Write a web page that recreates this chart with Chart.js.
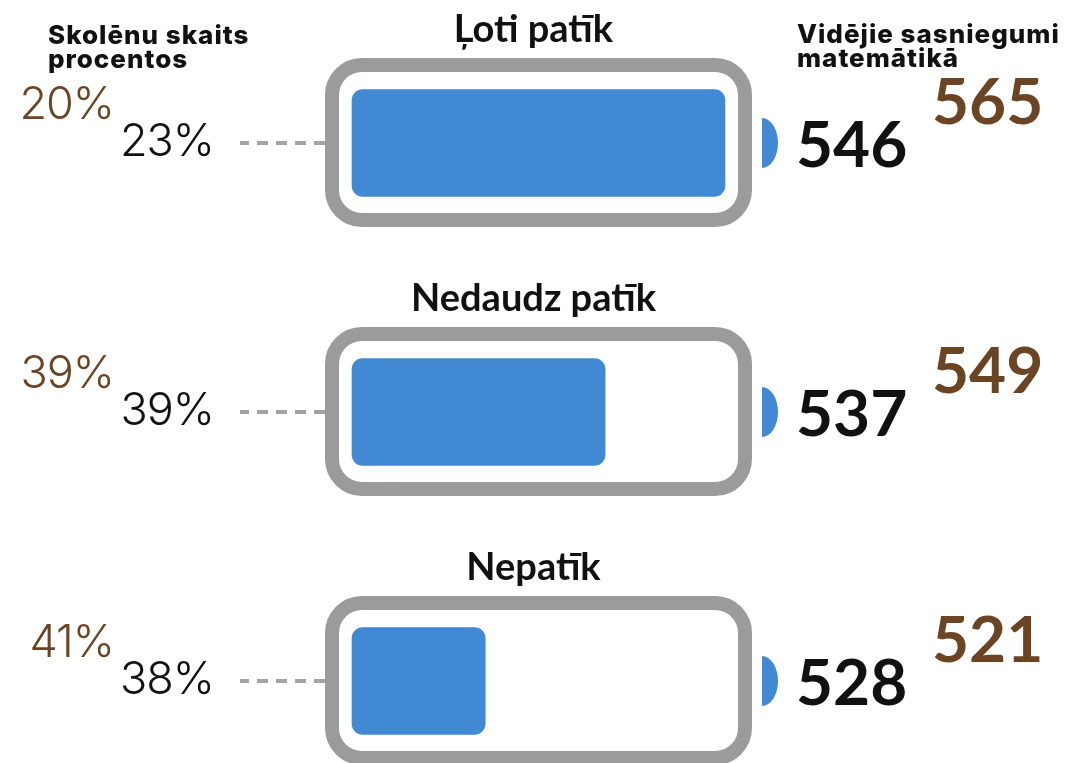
<!DOCTYPE html>
<html>
<head>
<meta charset="utf-8">
<script src="https://cdn.jsdelivr.net/npm/chart.js@4"></script>
<style>
  html, body { margin: 0; padding: 0; background: #fff; }
  #wrap { width: 1086px; height: 763px; }
</style>
</head>
<body>
<div id="wrap"><canvas id="batteryChart" width="1086" height="763"></canvas></div>
<script>
// ---------------------------------------------------------------- data
const categories = ['Ļoti patīk', 'Nedaudz patīk', 'Nepatīk']
const shareNow = [23, 39, 38]        // black, %
const shareBefore = [20, 39, 41]     // brown, %
const scoreNow = [546, 537, 528]     // black
const scoreBefore = [565, 549, 521]  // brown
const headerLeft = ['Skolēnu skaits', 'procentos']
const headerRight = ['Vidējie sasniegumi', 'matemātikā']
const scoreMin = 518
const scoreMax = 546

// ---------------------------------------------------------------- colours
const blue = '#4289d4'
const grey = '#9b9b9b'
const brown = '#6b4424'
const black = '#111111'

const thinFont = '"Inter", "Open Sans", sans-serif'
const boldFont = '"Lato", "Open Sans", sans-serif'
const headFont = '"Inter", "Open Sans", sans-serif'

// ---------------------------------------------------------------- battery shell + labels
const batteryPlugin = {
    id: 'battery',
    beforeDatasetsDraw(chart) {
        const ctx = chart.ctx
        const x = chart.scales.x
        chart.getDatasetMeta(0).data.forEach((bar) => {
            const cy = bar.y
            ctx.save()
            // shell
            ctx.strokeStyle = grey
            ctx.lineWidth = 14
            ctx.beginPath()
            ctx.roundRect(x.left - 20, cy - 78, (x.right - x.left) + 40, 155, 30)
            ctx.stroke()
            // terminal
            ctx.fillStyle = blue
            ctx.beginPath()
            ctx.ellipse(x.right + 37, cy, 16, 25, 0, -Math.PI / 2, Math.PI / 2)
            ctx.closePath()
            ctx.fill()
            // dashed leader
            ctx.strokeStyle = '#a3a3a3'
            ctx.lineWidth = 4
            ctx.setLineDash([11, 8])
            ctx.beginPath()
            ctx.moveTo(x.left - 27, cy)
            ctx.lineTo(x.left - 112, cy)
            ctx.stroke()
            ctx.restore()
        })
    },
    afterDraw(chart) {
        const ctx = chart.ctx
        const x = chart.scales.x
        const midX = (x.left + x.right) / 2 - 5
        ctx.save()
        ctx.textBaseline = 'alphabetic'

        // headers
        ctx.fillStyle = black
        ctx.font = '800 26px ' + headFont
        ctx.letterSpacing = '1px'
        ctx.textAlign = 'left'
        headerLeft.forEach((t, i) => ctx.fillText(t, 48, 44 + i * 24))
        headerRight.forEach((t, i) => ctx.fillText(t, 797, 43 + i * 24))
        ctx.letterSpacing = '0px'

        chart.getDatasetMeta(0).data.forEach((bar, i) => {
            const cy = bar.y
            // category title
            ctx.fillStyle = black
            ctx.font = 'bold 38px ' + boldFont
            ctx.textAlign = 'center'
            ctx.fillText(categories[i], midX, cy - 101)

            // shares
            ctx.textAlign = 'right'
            ctx.font = '300 45px ' + thinFont
            ctx.letterSpacing = '-1px'
            ctx.fillStyle = brown
            ctx.fillText(shareBefore[i] + '%', 114, cy - 24)
            ctx.fillStyle = black
            ctx.fillText(shareNow[i] + '%', 214, cy + 13)
            ctx.letterSpacing = '0px'

            // scores
            ctx.textAlign = 'left'
            ctx.font = 'bold 64px ' + boldFont
            ctx.fillStyle = black
            ctx.fillText(scoreNow[i], 796, cy + 24)
            ctx.fillStyle = brown
            ctx.fillText(scoreBefore[i], 932, cy - 19)
        })
        ctx.restore()
    }
}

// ---------------------------------------------------------------- chart
const config = {
    type: 'bar',
    data: {
        labels: categories,
        datasets: [{
            label: 'Vidējie sasniegumi',
            data: scoreNow,
            base: scoreMin,
            backgroundColor: blue,
            borderRadius: 11,
            borderSkipped: false,
            barThickness: 107,
            clip: false
        }]
    },
    options: {
        indexAxis: 'y',
        responsive: false,
        animation: false,
        layout: {
            padding: { left: 352, right: 361, top: 143, bottom: 82 }
        },
        scales: {
            x: { display: false, min: scoreMin, max: scoreMax },
            y: { display: false, offset: false }
        },
        plugins: {
            legend: { display: false },
            tooltip: { enabled: false }
        }
    },
    plugins: [batteryPlugin]
}

let batteryChart = new Chart(document.getElementById('batteryChart'), config)
</script>
</body>
</html>
